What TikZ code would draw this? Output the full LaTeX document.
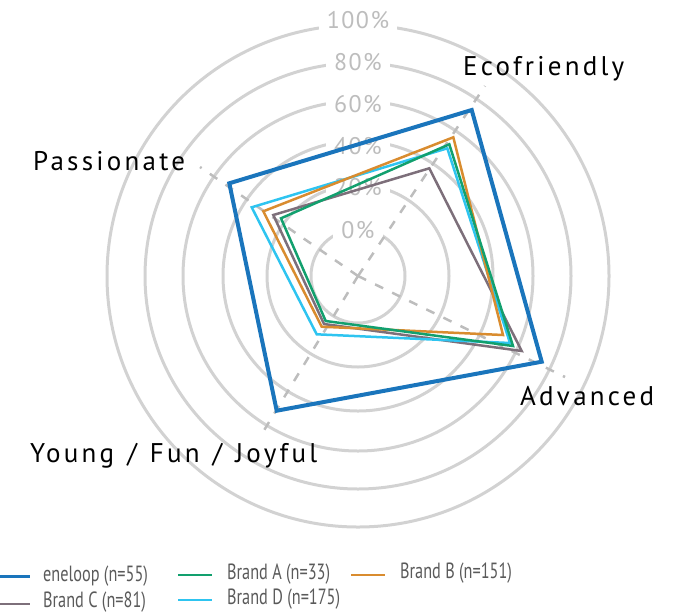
\documentclass[tikz,border=0pt]{standalone}
\usepackage{fontspec}
\setmainfont{PT Sans}
\newfontfamily\axisfont[LetterSpace=12,WordSpace=1.25]{PT Sans}
\newfontfamily\pctfont[LetterSpace=6]{PT Sans}
\newfontfamily\legfont[FakeStretch=0.74]{PT Sans}
\usepackage{xcolor}
\usetikzlibrary{positioning}
\definecolor{cEne}{HTML}{1A75BC}
\definecolor{cBrA}{HTML}{12A06E}
\definecolor{cBrB}{HTML}{D98C2F}
\definecolor{cBrC}{HTML}{7D6F7A}
\definecolor{cBrD}{HTML}{2EC4F0}
\definecolor{cRing}{HTML}{D2D2D2}
\definecolor{cAxis}{HTML}{BDBDBD}
\definecolor{cPct}{HTML}{BDBDBD}
\definecolor{cLeg}{HTML}{5A5A5A}

\begin{document}
\begin{tikzpicture}[x=1pt,y=-1pt,
    ring/.style={draw=cRing,line width=3pt},
    pct/.style={fill=white,text=cPct,inner xsep=8pt,inner ysep=2pt,font=\pctfont\fontsize{24}{26}\selectfont},
    axis/.style={draw=cAxis,line width=2.5pt,dash pattern=on 9pt off 10pt},
    lbl/.style={anchor=base west,inner sep=0pt,font=\axisfont\fontsize{27}{30}\selectfont},
    ene/.style={draw=cEne,line width=4pt},
    brand/.style={line width=2.5pt},
    leg/.style={anchor=west,inner sep=0pt,text=cLeg,font=\legfont\fontsize{22}{24}\selectfont}]
    \useasboundingbox (0,0) rectangle (690,614);

    \coordinate (c) at (358,276);
    \draw[ring] (c) circle (47);
    \draw[ring] (c) circle (91);
    \draw[ring] (c) circle (135);
    \draw[ring] (c) circle (175);
    \draw[ring] (c) circle (213);
    \draw[ring] (c) circle (251);

    \node[pct] (p100) at (358,20)  {100\%};
    \node[pct] (p80)  at (358,62)  {80\%};
    \node[pct] (p60)  at (358,104) {60\%};
    \node[pct] (p40)  at (358,146) {40\%};
    \node[pct] (p20)  at (358,187) {20\%};
    \node[pct] (p0)   at (358,230) {0\%};

    \coordinate (ax_E) at (485,86);
    \coordinate (ax_P) at (200,167);
    \coordinate (ax_A) at (565,377);
    \coordinate (ax_Y) at (263,432);
    \draw[axis] (c) -- (ax_E);
    \draw[axis] (c) -- (ax_P);
    \draw[axis] (c) -- (ax_A);
    \draw[axis] (c) -- (ax_Y);

    \node[lbl] (l_E) at (463,75)  {Ecofriendly};
    \node[lbl] (l_P) at (33,170)  {Passionate};
    \node[lbl] (l_A) at (520,405) {Advanced};
    \node[lbl] (l_Y) at (30,462)  {Young / Fun / Joyful};

    % radar lines
    \coordinate (ene_E) at (471.7,110);
    \coordinate (ene_P) at (229.3,183.3);
    \coordinate (ene_Y) at (276.7,410.7);
    \coordinate (ene_A) at (541.7,361.7);
    \coordinate (bA_E) at (449.3,144.3);
    \coordinate (bA_P) at (281,218.3);
    \coordinate (bA_Y) at (325.7,321);
    \coordinate (bA_A) at (513,346);
    \coordinate (bB_E) at (453.3,137.3);
    \coordinate (bB_P) at (263.3,211.3);
    \coordinate (bB_Y) at (321.7,326.7);
    \coordinate (bB_A) at (503,335);
    \coordinate (bC_E) at (429.3,168.3);
    \coordinate (bC_P) at (273.3,215);
    \coordinate (bC_Y) at (324,324);
    \coordinate (bC_A) at (521.7,351);
    \coordinate (bD_E) at (447.3,148.3);
    \coordinate (bD_P) at (251.7,207.3);
    \coordinate (bD_Y) at (316.7,334.3);
    \coordinate (bD_A) at (510,343);

    \draw[brand,draw=cBrC] (bC_E) -- (bC_A) -- (bC_Y) -- (bC_P) -- cycle;
    \draw[brand,draw=cBrD] (bD_E) -- (bD_A) -- (bD_Y) -- (bD_P) -- cycle;
    \draw[brand,draw=cBrB] (bB_E) -- (bB_A) -- (bB_Y) -- (bB_P) -- cycle;
    \draw[brand,draw=cBrA] (bA_E) -- (bA_A) -- (bA_Y) -- (bA_P) -- cycle;
    \draw[ene] (ene_E) -- (ene_A) -- (ene_Y) -- (ene_P) -- cycle;

    % legend
    \node[leg] (t_ene) at (43,576)  {eneloop (n=55)};
    \node[leg] (t_bA)  at (227,574) {Brand A (n=33)};
    \node[leg] (t_bB)  at (400,573) {Brand B (n=151)};
    \node[leg] (t_bC)  at (43,602)  {Brand C (n=81)};
    \node[leg] (t_bD)  at (227,599) {Brand D (n=175)};
    \coordinate (k_ene) at (0,576);
    \coordinate (k_bA)  at (178,575);
    \coordinate (k_bB)  at (351,575);
    \coordinate (k_bC)  at (0,604);
    \coordinate (k_bD)  at (178,600);
    \draw[line width=3pt,cEne,shorten >=13pt] (k_ene) -- (t_ene.west);
    \draw[brand,cBrA,shorten >=15pt] (k_bA) -- (k_bA -| t_bA.west);
    \draw[brand,cBrB,shorten >=15pt] (k_bB) -- (k_bB -| t_bB.west);
    \draw[brand,cBrC,shorten >=13pt] (k_bC) -- (k_bC -| t_bC.west);
    \draw[brand,cBrD,shorten >=15pt] (k_bD) -- (k_bD -| t_bD.west);
\end{tikzpicture}
\end{document}
